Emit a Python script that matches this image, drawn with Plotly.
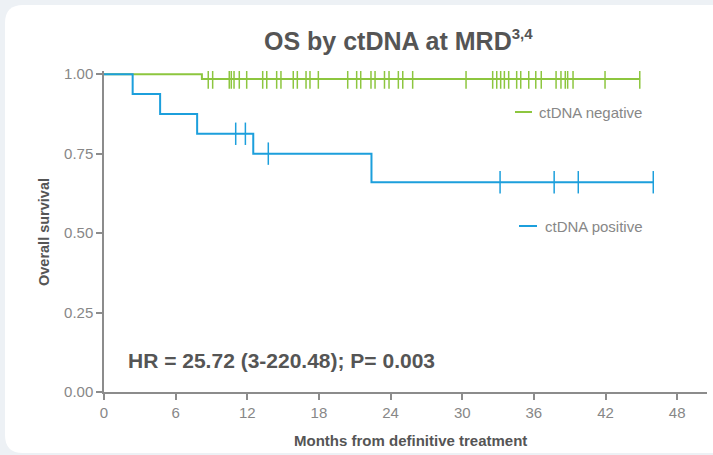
import plotly.graph_objects as go

# ---- data ----
neg_times = [0, 8.2, 44.9]
neg_surv = [1.0, 0.985, 0.985]
neg_censor = [8.73, 9.10, 10.49, 10.66, 10.89, 11.33, 11.95, 13.29, 13.63, 14.46,
              14.82, 15.85, 16.19, 16.92, 17.25, 17.95, 20.41, 21.16, 21.50, 22.36,
              22.70, 23.49, 23.87, 24.65, 25.02, 25.85, 30.32, 32.55, 32.89, 33.22,
              33.53, 33.89, 34.56, 34.90, 35.57, 36.16, 36.62, 37.86, 38.27, 38.63,
              38.83, 39.28, 41.96, 44.87]

pos_times = [0, 2.4, 4.7, 7.8, 12.5, 22.4, 46.0]
pos_surv = [1.0, 0.9375, 0.875, 0.8125, 0.75, 0.66, 0.66]
pos_censor = [11.03, 11.84, 13.76, 33.17, 37.7, 39.72, 46.0]

x_ticks = [0, 6, 12, 18, 24, 30, 36, 42, 48]
y_ticks = [0, 0.25, 0.5, 0.75, 1.0]

GREEN = "#8dc63f"
BLUE = "#1c9fdc"
TXT = "#555555"
LIGHT = "#878787"
AX = "#8c8c8c"
FONT = "Liberation Sans, Arial, sans-serif"


def step_value(times, surv, t):
    v = surv[0]
    for ti, si in zip(times, surv):
        if ti <= t:
            v = si
    return v


fig = go.Figure()
fig.add_trace(go.Scatter(x=neg_times, y=neg_surv, mode="lines", line_shape="hv",
                         line=dict(color=GREEN, width=2), showlegend=False,
                         name="ctDNA negative"))
fig.add_trace(go.Scatter(x=neg_censor, y=[step_value(neg_times, neg_surv, t) for t in neg_censor],
                         mode="markers", showlegend=False,
                         marker=dict(symbol="line-ns", size=14,
                                     line=dict(color=GREEN, width=1.5))))
fig.add_trace(go.Scatter(x=pos_times, y=pos_surv, mode="lines", line_shape="hv",
                         line=dict(color=BLUE, width=2), showlegend=False,
                         name="ctDNA positive"))
fig.add_trace(go.Scatter(x=pos_censor, y=[step_value(pos_times, pos_surv, t) for t in pos_censor],
                         mode="markers", showlegend=False,
                         marker=dict(symbol="line-ns", size=16,
                                     line=dict(color=BLUE, width=1.5))))

L, R, T, B = 104, 6, 71, 63
W, H = 713, 455
PW, PH = W - L - R, H - T - B


def px(x):
    return (x - L) / PW


def py(y):
    return (H - B - y) / PH


# white rounded card on a light background
cl, ct, cr, cb = px(5), py(5), px(730), py(453)
rx, ry = 18 / PW, 18 / PH
card_path = (f"M{cl},{ct - ry} Q{cl},{ct} {cl + rx},{ct} L{cr},{ct} L{cr},{cb} "
             f"L{cl + rx},{cb} Q{cl},{cb} {cl},{cb + ry} Z")

shapes = [
    dict(type="path", xref="paper", yref="paper", path=card_path,
         fillcolor="white", line=dict(width=0), layer="below"),
    dict(type="line", xref="paper", yref="paper", x0=px(515), x1=px(532),
         y0=py(112), y1=py(112), line=dict(color=GREEN, width=2)),
    dict(type="line", xref="paper", yref="paper", x0=px(519), x1=px(537),
         y0=py(226), y1=py(226), line=dict(color=BLUE, width=2)),
]


def ann(text, x, y, size, color, xanchor="center", **kw):
    return dict(text=text, xref="paper", yref="paper", x=px(x), y=py(y),
                xanchor=xanchor, yanchor="middle", showarrow=False,
                font=dict(size=size, color=color, family=FONT), **kw)


annotations = [
    ann("<b>OS by ctDNA at MRD<sup><span style='font-size:15px'>3,4</span></sup></b>",
        398, 40, 25, TXT),
    ann("ctDNA negative", 537, 112, 15, LIGHT, xanchor="left"),
    ann("ctDNA positive", 543, 226, 15, LIGHT, xanchor="left"),
    ann("<b>HR = 25.72 (3-220.48); P= 0.003</b>", 281, 360, 21, TXT),
    ann("<b>Overall survival</b>", 44, 232, 14.5, TXT, textangle=-90),
    ann("<b>Months from definitive treatment</b>", 410, 440, 15, TXT),
]

fig.update_layout(
    width=W, height=H,
    margin=dict(l=L, r=R, t=T, b=B),
    paper_bgcolor="#edf1f5",
    plot_bgcolor="rgba(0,0,0,0)",
    showlegend=False,
    shapes=shapes,
    annotations=annotations,
    font=dict(family=FONT, color=LIGHT, size=15),
    xaxis=dict(range=[0, 50.5], tickvals=x_ticks, ticktext=[str(v) for v in x_ticks],
               showgrid=False, zeroline=False, showline=True, linecolor=AX, linewidth=1.5,
               ticks="outside", ticklen=6, tickwidth=1.5, tickcolor=AX,
               tickfont=dict(size=15, color=LIGHT)),
    yaxis=dict(range=[0, 1.01], tickvals=y_ticks, tickformat=".2f",
               showgrid=False, zeroline=False, showline=True, linecolor=AX, linewidth=1.5,
               ticks="outside", ticklen=6, tickwidth=1.5, tickcolor=AX,
               tickfont=dict(size=15, color=LIGHT)),
)

fig.write_html("out.html", config={"displayModeBar": False},
               post_script="document.body.style.margin='0';document.body.style.overflow='hidden';")
